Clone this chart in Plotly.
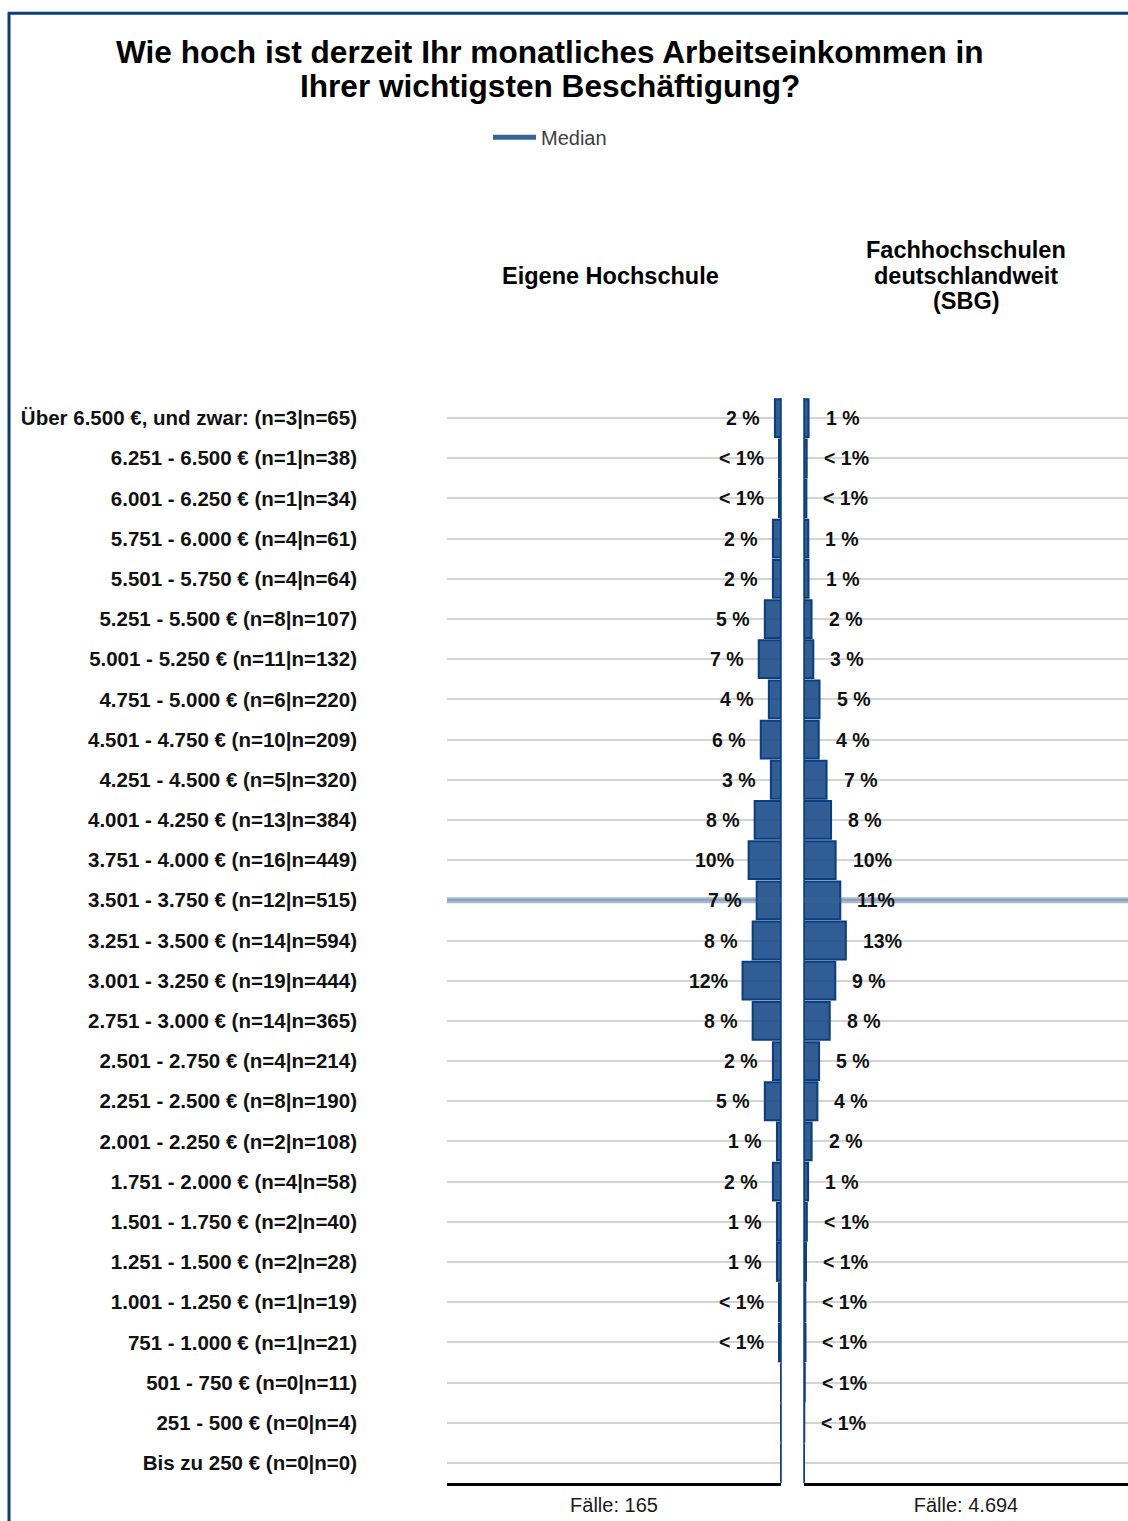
import plotly.graph_objects as go

# ---------------- data ----------------
bands = [
    "Über 6.500 €, und zwar:", "6.251 - 6.500 €", "6.001 - 6.250 €", "5.751 - 6.000 €",
    "5.501 - 5.750 €", "5.251 - 5.500 €", "5.001 - 5.250 €", "4.751 - 5.000 €",
    "4.501 - 4.750 €", "4.251 - 4.500 €", "4.001 - 4.250 €", "3.751 - 4.000 €",
    "3.501 - 3.750 €", "3.251 - 3.500 €", "3.001 - 3.250 €", "2.751 - 3.000 €",
    "2.501 - 2.750 €", "2.251 - 2.500 €", "2.001 - 2.250 €", "1.751 - 2.000 €",
    "1.501 - 1.750 €", "1.251 - 1.500 €", "1.001 - 1.250 €", "751 - 1.000 €",
    "501 - 750 €", "251 - 500 €", "Bis zu 250 €",
]
n_own = [3, 1, 1, 4, 4, 8, 11, 6, 10, 5, 13, 16, 12, 14, 19, 14, 4, 8, 2, 4, 2, 2, 1, 1, 0, 0, 0]
n_sbg = [65, 38, 34, 61, 64, 107, 132, 220, 209, 320, 384, 449, 515, 594, 444, 365, 214, 190,
         108, 58, 40, 28, 19, 21, 11, 4, 0]
median_band = "3.501 - 3.750 €"

title_lines = ["Wie hoch ist derzeit Ihr monatliches Arbeitseinkommen in",
               "Ihrer wichtigsten Beschäftigung?"]
panel_own_title = ["Eigene Hochschule"]
panel_sbg_title = ["Fachhochschulen", "deutschlandweit", "(SBG)"]
cases_own = "Fälle: 165"
cases_sbg = "Fälle: 4.694"
legend_name = "Median"

# ---------------- derived ----------------
categories = [f"{b} (n={a}|n={c})" for b, a, c in zip(bands, n_own, n_sbg)]
pct_own = [100 * v / sum(n_own) for v in n_own]
pct_sbg = [100 * v / sum(n_sbg) for v in n_sbg]
median_idx = bands.index(median_band)


def fmt(p, n):
    if n == 0:
        return ""
    if p < 1:
        return "< 1%"
    r = int(p + 0.5)
    return f"{r} %" if r < 10 else f"{r}%"


# ---------------- geometry ----------------
W, H = 1128, 1521
TOP, BOT = 397.9, 1483.1
FONT = "Liberation Sans, Arial, sans-serif"
BAR_FILL = "rgba(25,77,136,0.9)"
BAR_LINE = "#0a3e80"
FRAME = "#0a3d7c"


def py(p):
    return (BOT - p) / (BOT - TOP)


def px(p):
    return p / W


fig = go.Figure()
fig.add_trace(go.Bar(x=pct_own, y=categories, orientation="h", xaxis="x", yaxis="y",
                     marker=dict(color=BAR_FILL, line=dict(color=BAR_LINE, width=2)),
                     showlegend=False, hoverinfo="skip"))
fig.add_trace(go.Bar(x=pct_sbg, y=categories, orientation="h", xaxis="x2", yaxis="y2",
                     marker=dict(color=BAR_FILL, line=dict(color=BAR_LINE, width=2)),
                     showlegend=False, hoverinfo="skip"))
fig.add_trace(go.Scatter(x=[None], y=[None], mode="lines", name=legend_name,
                         line=dict(color="#3a6496", width=5), xaxis="x", yaxis="y"))

annotations = []
for i, (p, n) in enumerate(zip(pct_own, n_own)):
    t = fmt(p, n)
    if t:
        annotations.append(dict(x=p, y=i, xref="x", yref="y", text=t, showarrow=False,
                                xanchor="right", yanchor="middle", xshift=-13,
                                font=dict(family=FONT, size=19.5, color="#111", weight="bold")))
for i, (p, n) in enumerate(zip(pct_sbg, n_sbg)):
    t = fmt(p, n)
    if t:
        annotations.append(dict(x=p, y=i, xref="x2", yref="y2", text=t, showarrow=False,
                                xanchor="left", yanchor="middle", xshift=15,
                                font=dict(family=FONT, size=19.5, color="#111", weight="bold")))

for k, (line, yy) in enumerate(zip(title_lines, [52, 86])):
    annotations.append(dict(x=px(550), y=py(yy), xref="paper", yref="paper", text=line,
                            showarrow=False, xanchor="center", yanchor="middle",
                            font=dict(family=FONT, size=31.6, color="#000", weight="bold")))
for line, yy in zip(panel_own_title, [276]):
    annotations.append(dict(x=px(610), y=py(yy), xref="paper", yref="paper", text=line,
                            showarrow=False, xanchor="center", yanchor="middle",
                            font=dict(family=FONT, size=23.5, color="#000", weight="bold")))
for line, yy in zip(panel_sbg_title, [250, 276, 301]):
    annotations.append(dict(x=px(966), y=py(yy), xref="paper", yref="paper", text=line,
                            showarrow=False, xanchor="center", yanchor="middle",
                            font=dict(family=FONT, size=23.5, color="#000", weight="bold")))

shapes = [
    # median lines
    dict(type="line", xref="x domain", x0=0, x1=1, yref="y", y0=median_idx, y1=median_idx,
         line=dict(color="rgba(58,100,150,0.45)", width=6), layer="above"),
    dict(type="line", xref="x2 domain", x0=0, x1=1, yref="y2", y0=median_idx, y1=median_idx,
         line=dict(color="rgba(58,100,150,0.45)", width=6), layer="above"),
    # baseline at value zero of each panel
    dict(type="line", xref="x domain", x0=1, x1=1, yref="paper", y0=0, y1=1,
         line=dict(color=BAR_LINE, width=1.5), layer="below"),
    dict(type="line", xref="x2 domain", x0=0, x1=0, yref="paper", y0=0, y1=1,
         line=dict(color=BAR_LINE, width=1.5), layer="below"),
    # frame
    dict(type="line", xref="paper", yref="paper", x0=px(8), x1=px(1130), y0=py(13), y1=py(13),
         line=dict(color=FRAME, width=3)),
    dict(type="line", xref="paper", yref="paper", x0=px(9), x1=px(9), y0=py(12), y1=py(1525),
         line=dict(color=FRAME, width=3)),
]

axis_common = dict(showgrid=False, zeroline=False, showticklabels=False, ticks="",
                   showline=True, linecolor="#000", linewidth=3, fixedrange=True)
yaxis_common = dict(type="category", range=[len(categories) - 0.5, -0.5], showgrid=True,
                    gridcolor="#d4d4d4", gridwidth=2, zeroline=False, ticks="", showline=False)

fig.update_layout(
    width=W, height=H,
    margin=dict(l=0, r=0, t=TOP, b=H - BOT, pad=0),
    paper_bgcolor="white", plot_bgcolor="white",
    bargap=0.06,
    font=dict(family=FONT, color="#111"),
    xaxis=dict(domain=[px(447), px(781)], range=[100, 0], anchor="y",
               title=dict(text=cases_own, font=dict(family=FONT, size=20, color="#1a1a1a"), standoff=13),
               **axis_common),
    xaxis2=dict(domain=[px(804), 1.0], range=[0, 98], anchor="y2",
                title=dict(text=cases_sbg, font=dict(family=FONT, size=20, color="#1a1a1a"), standoff=13),
                **axis_common),
    yaxis=dict(anchor="x", showticklabels=True, ticklabelstandoff=89,
               tickfont=dict(family=FONT, size=20.5, color="#111", weight="bold"),
               **yaxis_common),
    yaxis2=dict(anchor="x2", matches="y", showticklabels=False, **yaxis_common),
    legend=dict(orientation="h", x=px(488), y=py(137), xanchor="left", yanchor="middle",
                itemwidth=43,
                font=dict(family=FONT, size=20, color="#404040"), bgcolor="rgba(0,0,0,0)"),
    annotations=annotations,
    shapes=shapes,
)

fig.write_html("out.html", config={"displayModeBar": False},
               post_script="document.body.style.margin='0';")
